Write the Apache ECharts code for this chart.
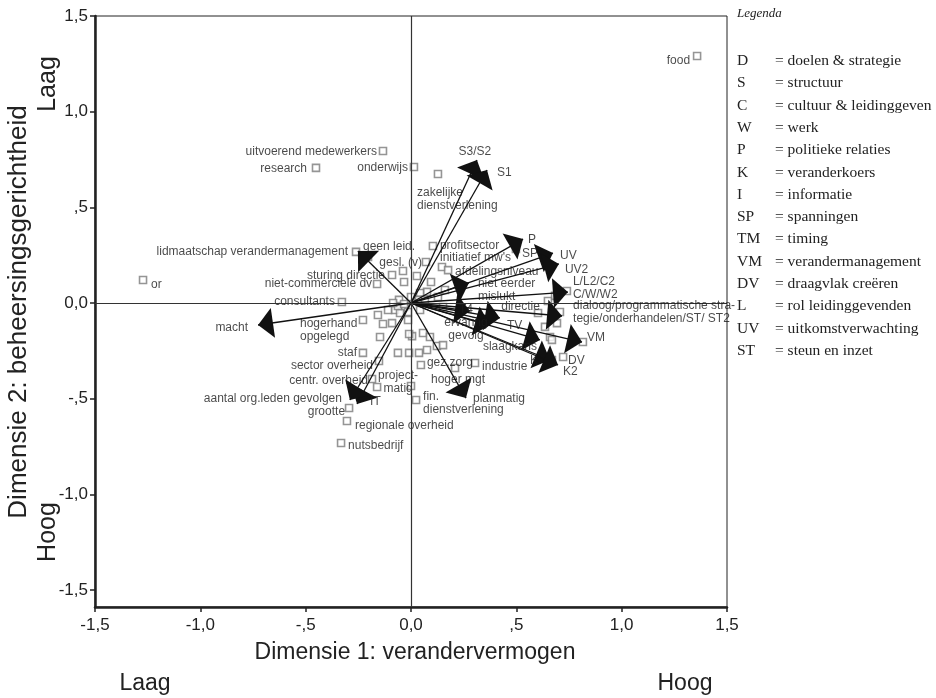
<!DOCTYPE html>
<html>
<head>
<meta charset="utf-8">
<script src="https://cdn.jsdelivr.net/npm/echarts@6/dist/echarts.min.js"></script>
<style>
  html, body { margin: 0; padding: 0; background: #fff; }
  #chart { width: 936px; height: 698px; }
</style>
</head>
<body>
<div id="chart"></div>
<script>
const xTicks = [-1.5, -1, -0.5, 0, 0.5, 1, 1.5];
const yTicks = [-1.5, -1, -0.5, 0, 0.5, 1, 1.5];

// unlabeled category points
const dotX = [-0.038, 0.028, 0.095, -0.033, 0.076, 0.161, -0.057, 0.043, 0.000, 0.038,
  -0.028, -0.076, -0.052, -0.157, -0.109, -0.014, 0.043, -0.133, -0.014, 0.057,
  0.090, 0.005, -0.147, -0.090, -0.009, -0.062, -0.009, 0.038, 0.076, 0.123,
  0.152, 0.000, 0.128, 0.152, 0.066, -0.062, -0.033, -0.085, 0.684, 0.603,
  0.707, 0.674, 0.693, 0.636, 0.660, 0.669, 0.816, 0.669, 0.740];
const dotY = [0.167, 0.141, 0.110, 0.110, 0.058, 0.068, 0.016, 0.052, 0.031, 0.016,
  -0.021, -0.037, -0.052, -0.063, -0.037, -0.047, -0.037, -0.110, -0.089, -0.157,
  -0.178, -0.173, -0.178, -0.105, -0.162, -0.261, -0.261, -0.261, -0.246, -0.225,
  -0.220, -0.434, 0.031, -0.021, 0.016, -0.016, -0.005, 0.000, 0.037, -0.052,
  -0.047, -0.073, -0.105, -0.125, -0.178, -0.193, -0.204, -0.298, 0.063];

// labeled category points
const pointNames = ['food', 'or', 'uitvoerend medewerkers', 'research', 'onderwijs',
  'zakelijke\ndienstverlening', 'lidmaatschap verandermanagement', 'geen leid.', 'gesl. (v)',
  'profitsector', "initiatief mw's", 'afdelingsniveau', 'sturing directie',
  'niet-commerciele dv', 'consultants', 'hogerhand\nopgelegd', 'staf', 'sector overheid',
  'centr. overheid', 'project-\nmatig', 'gez.zorg', 'hoger mgt', 'industrie',
  'fin.\ndienstverlening', 'grootte', 'regionale overheid', 'nutsbedrijf', 'SP',
  'directie', 'DV'];
const pointX = [1.358, -1.272, -0.133, -0.451, 0.014, 0.128, -0.261, -0.204, 0.071,
  0.104, 0.147, 0.176, -0.090, -0.161, -0.328, -0.228, -0.228, -0.152, -0.185,
  -0.161, 0.047, 0.209, 0.304, 0.024, -0.294, -0.304, -0.332, 0.498, 0.650, 0.722];
const pointY = [1.291, 0.120, 0.794, 0.706, 0.711, 0.674, 0.267, 0.240, 0.214,
  0.298, 0.188, 0.172, 0.146, 0.099, 0.005, -0.089, -0.261, -0.303, -0.397,
  -0.439, -0.324, -0.340, -0.314, -0.507, -0.549, -0.617, -0.732, 0.282, 0.010, -0.282];

// variable vectors
const arrowNames = ['S3/S2', 'S1', 'P', 'UV', 'UV2', 'niet eerder\nmislukt',
  'L/L2/C2\nC/W/W2', 'dialoog/programmatische stra-\ntegie/onderhandelen/ST/ ST2',
  'T4', 'TV', 'ervaring\ngevolg', 'slaagkans', 'VM', 'K', 'K2', 'planmatig', 'IT',
  'aantal org.leden gevolgen', 'macht', 'lidmaatschap'];
const arrowX = [0.313, 0.361, 0.532, 0.674, 0.702, 0.275, 0.745, 0.717, 0.280, 0.422,
  0.375, 0.612, 0.812, 0.660, 0.698, 0.261, -0.256, -0.290, -0.726, -0.252];
const arrowY = [0.747, 0.695, 0.334, 0.261, 0.204, 0.105, 0.057, -0.068, -0.042, -0.078,
  -0.115, -0.193, -0.204, -0.298, -0.324, -0.497, -0.528, -0.507, -0.115, 0.272];

const legendCodes = ['D', 'S', 'C', 'W', 'P', 'K', 'I', 'SP', 'TM', 'VM', 'DV', 'L', 'UV', 'ST'];
const legendTexts = ['doelen & strategie', 'structuur', 'cultuur & leidinggeven', 'werk',
  'politieke relaties', 'veranderkoers', 'informatie', 'spanningen', 'timing',
  'verandermanagement', 'draagvlak creëren', 'rol leidinggevenden',
  'uitkomstverwachting', 'steun en inzet'];

// where each label sits relative to its mark: [align, dx, dy] in px
const labelPlace = {
  'food': ['right', -7, 5],
  'or': ['left', 8, 5],
  'uitvoerend medewerkers': ['right', -6, 1],
  'research': ['right', -9, 1],
  'onderwijs': ['right', -6, 1],
  'zakelijke\ndienstverlening': ['left', -21, 25],
  'lidmaatschap verandermanagement': ['right', -8, 0],
  'geen leid.': ['left', -5, -10],
  'gesl. (v)': ['right', -4, 1],
  'profitsector': ['left', 7, 0],
  "initiatief mw's": ['left', -2, -9],
  'afdelingsniveau': ['left', 7, 2],
  'sturing directie': ['right', -7, 1],
  'niet-commerciele dv': ['right', -5, 0],
  'consultants': ['right', -7, 0],
  'hogerhand\nopgelegd': ['left', -63, 10],
  'staf': ['right', -6, 0],
  'sector overheid': ['right', -6, 5],
  'centr. overheid': ['right', -4, 2],
  'project-\nmatig': ['center', 21, -5],
  'gez.zorg': ['left', 6, -2],
  'hoger mgt': ['center', 3, 12],
  'industrie': ['left', 7, 4],
  'fin.\ndienstverlening': ['left', 7, 3],
  'grootte': ['right', -4, 4],
  'regionale overheid': ['left', 8, 5],
  'nutsbedrijf': ['left', 7, 3],
  'SP': ['left', 6, 5],
  'directie': ['right', -8, 6],
  'DV': ['left', 5, 4],
  'S3/S2': ['center', -2, -8],
  'S1': ['left', 10, 3],
  'P': ['left', 5, 1],
  'UV': ['left', 7, 3],
  'UV2': ['left', 6, 6],
  'niet eerder\nmislukt': ['left', 9, 7],
  'L/L2/C2\nC/W/W2': ['left', 5, -4],
  'dialoog/programmatische stra-\ntegie/onderhandelen/ST/ ST2': ['left', 11, -4],
  'T4': ['center', -4, -1],
  'TV': ['left', 7, 8],
  'ervaring\ngevolg': ['center', -24, 4],
  'slaagkans': ['right', -3, 7],
  'VM': ['left', 5, -4],
  'K': ['right', -12, 1],
  'K2': ['left', 5, 7],
  'planmatig': ['left', 7, 1],
  'IT': ['left', 13, -2],
  'aantal org.leden gevolgen': ['right', -8, -1],
  'macht': ['right', -10, 3]
};

const labelFont = "'Liberation Sans', Arial, sans-serif";

function labelFor(name) {
  const p = labelPlace[name];
  if (!p) return { show: false };
  return {
    show: true, position: 'inside', align: p[0], verticalAlign: 'middle',
    offset: [p[1], p[2]], formatter: '{b}', color: '#1a1a1a',
    fontSize: 12, lineHeight: 13, fontFamily: labelFont
  };
}

function fmt(v) {
  if (v === 0) return '0,0';
  const a = Math.abs(v);
  let s = a.toFixed(1).replace('.', ',');
  if (a < 1) s = s.slice(1);
  return (v < 0 ? '-' : '') + s;
}

const squareStyle = { color: '#ffffff', borderColor: '#7a7a7a', borderWidth: 1.6 };

const legendItems = [];
legendItems.push({ type: 'text', left: 737, top: 7,
  style: { text: 'Legenda', font: "italic 13px 'Liberation Serif', serif", fill: '#222' } });
legendCodes.forEach((c, i) => {
  const y = 61 + i * 22.3;
  legendItems.push({ type: 'text', x: 737, y: y,
    style: { text: c, font: "15.5px 'Liberation Serif', serif", fill: '#222', verticalAlign: 'middle' } });
  legendItems.push({ type: 'text', x: 775, y: y,
    style: { text: '= ' + legendTexts[i], font: "15.5px 'Liberation Serif', serif", fill: '#222', verticalAlign: 'middle' } });
});

const titleFont = "23px 'Liberation Sans', Arial, sans-serif";
const sideFont = "25px 'Liberation Sans', Arial, sans-serif";
const titles = [
  { type: 'text', x: 415, y: 653, style: { text: 'Dimensie 1: verandervermogen', font: titleFont, fill: '#222', align: 'center', verticalAlign: 'middle' } },
  { type: 'text', x: 145, y: 684, style: { text: 'Laag', font: titleFont, fill: '#222', align: 'center', verticalAlign: 'middle' } },
  { type: 'text', x: 685, y: 684, style: { text: 'Hoog', font: titleFont, fill: '#222', align: 'center', verticalAlign: 'middle' } },
  { type: 'text', x: 19, y: 312, rotation: Math.PI / 2, style: { text: 'Dimensie 2: beheersingsgerichtheid', font: "26px 'Liberation Sans', Arial, sans-serif", fill: '#222', align: 'center', verticalAlign: 'middle' } },
  { type: 'text', x: 48, y: 84, rotation: Math.PI / 2, style: { text: 'Laag', font: sideFont, fill: '#222', align: 'center', verticalAlign: 'middle' } },
  { type: 'text', x: 48, y: 532, rotation: Math.PI / 2, style: { text: 'Hoog', font: sideFont, fill: '#222', align: 'center', verticalAlign: 'middle' } }
];

const chart = echarts.init(document.getElementById('chart'), null, { renderer: 'canvas' });

const option = {
  animation: false,
  backgroundColor: '#fff',
  grid: { left: 95, right: 209, top: 16, bottom: 91, show: true, borderColor: '#222', borderWidth: 1 },
  xAxis: {
    type: 'value', min: -1.5, max: 1.5, interval: 0.5,
    axisLine: { show: true, onZero: false, lineStyle: { color: '#222', width: 2.5 } },
    axisTick: { show: true, length: 5, lineStyle: { color: '#222', width: 1.5 } },
    axisLabel: { formatter: fmt, fontSize: 17, color: '#222', margin: 10, fontFamily: labelFont },
    splitLine: { show: false }
  },
  yAxis: {
    type: 'value', min: -1.589, max: 1.5,
    axisLine: { show: true, onZero: false, lineStyle: { color: '#222', width: 2.5 } },
    axisTick: { show: true, length: 5, customValues: yTicks, lineStyle: { color: '#222', width: 1.5 } },
    axisLabel: { customValues: yTicks, formatter: fmt, fontSize: 17, color: '#222', margin: 7, fontFamily: labelFont },
    splitLine: { show: false }
  },
  graphic: legendItems.concat(titles),
  series: [
    {
      type: 'scatter', symbol: 'rect', symbolSize: 7, z: 2,
      itemStyle: squareStyle,
      data: dotX.map((x, i) => [x, dotY[i]]),
      markLine: {
        silent: true, symbol: ['none', 'none'], label: { show: false },
        lineStyle: { color: '#333', width: 1.2, type: 'solid' },
        data: [{ xAxis: 0 }, { yAxis: 0 }]
      }
    },
    {
      type: 'scatter', symbol: 'rect', symbolSize: 7, z: 3,
      itemStyle: squareStyle,
      data: pointNames.map((n, i) => ({ name: n, value: [pointX[i], pointY[i]], label: labelFor(n) }))
    },
    {
      type: 'lines', coordinateSystem: 'cartesian2d', z: 4, silent: true,
      symbol: ['none', 'path://M0,0L5,15L-5,15Z M0,-15'], symbolSize: [10, 30],
      lineStyle: { color: '#111', width: 1.3, opacity: 1, curveness: 0 },
      data: arrowNames.map((n, i) => ({ coords: [[0, 0], [arrowX[i], arrowY[i]]] }))
    },
    {
      type: 'scatter', symbolSize: 0, z: 5, silent: true,
      data: arrowNames.map((n, i) => ({ name: n, value: [arrowX[i], arrowY[i]], label: labelFor(n) }))
    }
  ]
};

chart.setOption(option);
</script>
</body>
</html>
